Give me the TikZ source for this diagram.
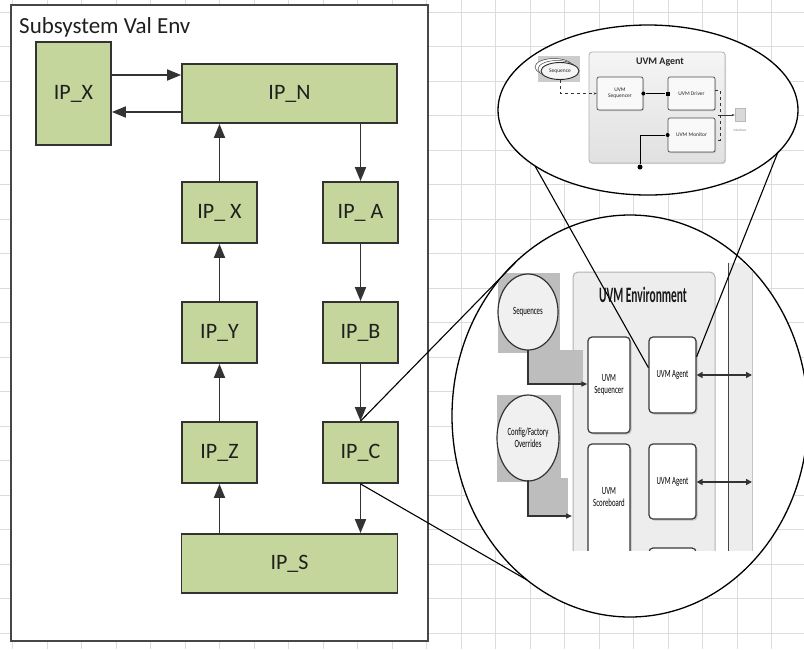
\documentclass[tikz,border=0pt]{standalone}
\usepackage{fontspec}
\setmainfont{Carlito}
\usetikzlibrary{arrows.meta,shadows}
\definecolor{boxgreen}{HTML}{C4D69B}
\definecolor{gridc}{HTML}{DCDCDC}
\definecolor{edgec}{HTML}{333333}
\definecolor{envgray}{HTML}{EDEDED}
\definecolor{shadegray}{HTML}{BDBDBD}
\newcommand\sqz[1]{\scalebox{0.62}[1]{#1}}
\begin{document}
\begin{tikzpicture}[x=1pt,y=-1pt,
  ipbox/.style={draw=edgec, line width=1.8pt, fill=boxgreen, inner sep=0pt, text=black!88, font=\fontsize{22}{25}\selectfont},
  flow/.style={draw=edgec, line width=1.8pt, -{Triangle[length=14pt,width=11pt]}},
  zoomline/.style={draw=black, line width=1.1pt},
  uvmbox/.style={draw=gray!45!black, line width=1.2pt, fill=white, rounded corners=4pt, inner sep=0pt, drop shadow={shadow xshift=1.5pt, shadow yshift=-1.5pt, opacity=.4}},
  uvmtxt/.style={font=\fontsize{11}{12}\selectfont, text=black, align=center, inner sep=0pt},
  tinybox/.style={draw=gray!60!black, line width=0.7pt, fill=gray!5, rounded corners=2pt, inner sep=0pt, drop shadow={shadow xshift=1pt, shadow yshift=-1pt, opacity=.3}},
  tinytxt/.style={font=\fontsize{5.5}{6}\selectfont, text=black!85, align=center, inner sep=0pt},
  dot/.style={circle, fill=black, minimum size=4pt, inner sep=0pt}
]
\useasboundingbox (0,0) rectangle (804,649);
\fill[white] (0,0) rectangle (804,649);
\foreach \i in {0,...,23} \draw[gridc, line width=0.8pt] ({12.5+34.5*\i},0) -- ({12.5+34.5*\i},649);
\foreach \j in {0,...,18} \draw[gridc, line width=0.8pt] (0,{12+34.5*\j}) -- (804,{12+34.5*\j});

% ---------- left frame ----------
\node[draw=edgec!90, line width=1.5pt, fill=white, minimum width=417, minimum height=636, inner sep=0pt] (frame) at (219.5,323) {};
\node[anchor=base west, inner sep=0pt, font=\fontsize{23}{27}\selectfont, text=black!88] (title) at (19,33) {Subsystem Val Env};

\node[ipbox, minimum width=75, minimum height=103] (ipxl) at (73.5,93.5) {IP\_X};
\node[ipbox, minimum width=215, minimum height=59] (ipn) at (289.5,93.5) {IP\_N};
\node[ipbox, minimum width=75, minimum height=61] (ipx) at (219.5,212.5) {IP\_ X};
\node[ipbox, minimum width=75, minimum height=61] (ipa) at (360.5,212.5) {IP\_ A};
\node[ipbox, minimum width=75, minimum height=61] (ipy) at (219.5,332.5) {IP\_Y};
\node[ipbox, minimum width=75, minimum height=61] (ipb) at (360.5,332.5) {IP\_B};
\node[ipbox, minimum width=75, minimum height=61] (ipz) at (219.5,452.5) {IP\_Z};
\node[ipbox, minimum width=75, minimum height=61] (ipc) at (360.5,452.5) {IP\_C};
\node[ipbox, minimum width=216, minimum height=59] (ips) at (289.5,563.5) {IP\_S};

\coordinate (ya) at (0,75);
\coordinate (yb) at (0,112);
\draw[flow] (ipxl.east |- ya) -- (ipn.west |- ya);
\draw[flow] (ipn.west |- yb) -- (ipxl.east |- yb);
\draw[flow] (ipx.north) -- (ipx.north |- ipn.south);
\draw[flow] (ipa.north |- ipn.south) -- (ipa.north);
\draw[flow] (ipa.south) -- (ipb.north);
\draw[flow] (ipb.south) -- (ipc.north);
\draw[flow] (ipc.south) -- (ipc.south |- ips.north);
\draw[flow] (ipz.south |- ips.north) -- (ipz.south);
\draw[flow] (ipz.north) -- (ipy.south);
\draw[flow] (ipy.north) -- (ipx.south);

% ---------- zoom shapes ----------
\filldraw[fill=white, draw=black, line width=1.3pt] (630,416) ellipse [x radius=178, y radius=201];
\filldraw[fill=white, draw=black, line width=1.3pt] (648,110) ellipse [x radius=150, y radius=85];

% ---------- UVM environment view ----------
\begin{scope}
\clip (630,416) ellipse [x radius=177, y radius=200];
\clip (480,250) rectangle (760,550);
\filldraw[fill=envgray, draw=gray!60, line width=1pt, rounded corners=5pt] (573,560) -- (573,272) -- (715,272) -- (715,560);
\node[font=\bfseries\fontsize{22}{24}\selectfont, text=black!90, inner sep=0pt] (envt) at (643,295) {\scalebox{0.52}[1]{UVM Environment}};
\fill[gray!14] (728,263) rectangle (752,560);
\draw[gray!55!black, line width=1pt] (728,263) -- (728,560);
\draw[gray!45, line width=0.8pt] (752,263) -- (752,560);

\fill[shadegray] (498,273) rectangle (560,353);
\fill[shadegray] (528,350) rectangle (583,384);
\filldraw[fill=gray!12, draw=gray!40!black, line width=1.2pt] (528,312) ellipse [x radius=30, y radius=38];
\node[uvmtxt] (seqs) at (528,312) {\sqz{Sequences}};

\fill[shadegray] (497,395) rectangle (561,482);
\fill[shadegray] (528,478) rectangle (568,517);
\filldraw[fill=gray!12, draw=gray!40!black, line width=1.2pt] (528,438) ellipse [x radius=31, y radius=43];
\node[uvmtxt] (cfg) at (528,438) {\sqz{Config/Factory}\\\sqz{Overrides}};

\node[uvmbox, uvmtxt, minimum width=42, minimum height=96] (seqr) at (609,385) {\sqz{UVM}\\\sqz{Sequencer}};
\node[uvmbox, minimum width=42, minimum height=124] (scb) at (609,506) {};
\node[uvmtxt] (scbt) at (609,497) {\sqz{UVM}\\\sqz{Scoreboard}};
\node[uvmbox, uvmtxt, minimum width=47, minimum height=76] (ag1) at (672.5,375) {\sqz{UVM Agent}};
\node[uvmbox, uvmtxt, minimum width=47, minimum height=75] (ag2) at (672.5,481.5) {\sqz{UVM Agent}};
\node[uvmbox, minimum width=47, minimum height=74] (ag3) at (672.5,585) {};

\coordinate (sa) at (0,384);
\coordinate (sb) at (0,516);
\coordinate (s1) at (528,350);
\coordinate (s2) at (528,480);
\coordinate (ce) at (572,0);
\draw[edgec, line width=1.4pt, -{Triangle[length=6pt,width=5pt]}] (s1) -- (s1 |- sa) -- (seqr.west |- sa);
\draw[edgec, line width=1.4pt, -{Triangle[length=6pt,width=5pt]}] (s2) -- (s2 |- sb) -- (ce |- sb);
\coordinate (b1) at (752,375);
\coordinate (b2) at (752,482);
\draw[edgec, line width=1.6pt, {Triangle[length=6pt,width=6pt]}-{Triangle[length=6pt,width=6pt]}] (ag1.east) -- (b1);
\draw[edgec, line width=1.6pt, {Triangle[length=6pt,width=6pt]}-{Triangle[length=6pt,width=6pt]}] (ag2.east |- b2) -- (b2);
\end{scope}

% ---------- UVM agent view ----------
\node[draw=gray!60, top color=gray!8, bottom color=gray!24, rounded corners=3pt, line width=0.8pt, minimum width=136, minimum height=111, inner sep=0pt, drop shadow={shadow xshift=1pt, shadow yshift=-1pt, opacity=.3}] (agbox) at (657,107.5) {};
\node[font=\bfseries\fontsize{10}{11}\selectfont, text=black!85, inner sep=0pt] (agt) at (660,62) {UVM Agent};

\fill[gray!40] (538,56) rectangle (580,82);
\filldraw[fill=white, draw=gray!50!black, line width=0.5pt] (554,67) ellipse [x radius=19, y radius=8.5];
\filldraw[fill=white, draw=gray!50!black, line width=0.5pt] (557,69) ellipse [x radius=19, y radius=8.5];
\filldraw[fill=gray!8, draw=gray!30!black, line width=0.9pt] (560,71) ellipse [x radius=19, y radius=8.5];
\node[tinytxt] (sqn) at (560,71) {Sequence};

\node[tinybox, tinytxt, minimum width=46, minimum height=33] (tseq) at (620,93.5) {UVM\\Sequencer};
\node[tinybox, tinytxt, minimum width=47, minimum height=33] (tdrv) at (691.5,93.5) {UVM Driver};
\node[tinybox, tinytxt, minimum width=47, minimum height=34] (tmon) at (691.5,135) {UVM Monitor};

\coordinate (sq1) at (560,80);
\draw[gray!40!black, dashed, line width=0.8pt, -{Stealth[length=3pt]}] (sq1) -- (sq1 |- tseq.west) -- (tseq.west);
\node[dot] (dsq) at (tseq.east) {};
\node[fill=black, minimum size=4pt, inner sep=0pt] (ddr) at (tdrv.west) {};
\draw[line width=0.8pt] (dsq) -- (ddr);
\node[dot] (dmo) at (tmon.west) {};
\coordinate (mb) at (640,167);
\node[dot, minimum size=5pt] (dmb) at (mb) {};
\draw[line width=0.8pt] (dmo) -| (dmb);
\coordinate (dk1) at (720,90);
\coordinate (dk2) at (720,140);
\draw[gray!40!black, dashed, line width=0.7pt] (tdrv.east |- dk1) -- (dk1) -- (dk2) -- (tmon.east |- dk2);
\node[fill=gray!30, draw=gray!55, line width=0.5pt, minimum width=10, minimum height=13, inner sep=0pt] (ifc) at (740,115) {};
\node[font=\fontsize{3.5}{4}\selectfont, text=gray, inner sep=0pt] (ift) at (740,130) {Interface};
\coordinate (if1) at (718,115);
\draw[gray!40!black, line width=0.7pt, -{Stealth[length=3pt]}] (if1) -- (ifc.west);

% ---------- zoom connectors ----------
\coordinate (z1) at (535,166);
\coordinate (z2) at (778,152);
\draw[zoomline] (z1) -- (ag1.163);
\draw[zoomline] (z2) -- (ag1.37);
\coordinate (c1) at (515,263);
\coordinate (c2) at (527,580);
\draw[zoomline] (ipc.north) -- (c1);
\draw[zoomline] (ipc.south) -- (c2);
\end{tikzpicture}
\end{document}
